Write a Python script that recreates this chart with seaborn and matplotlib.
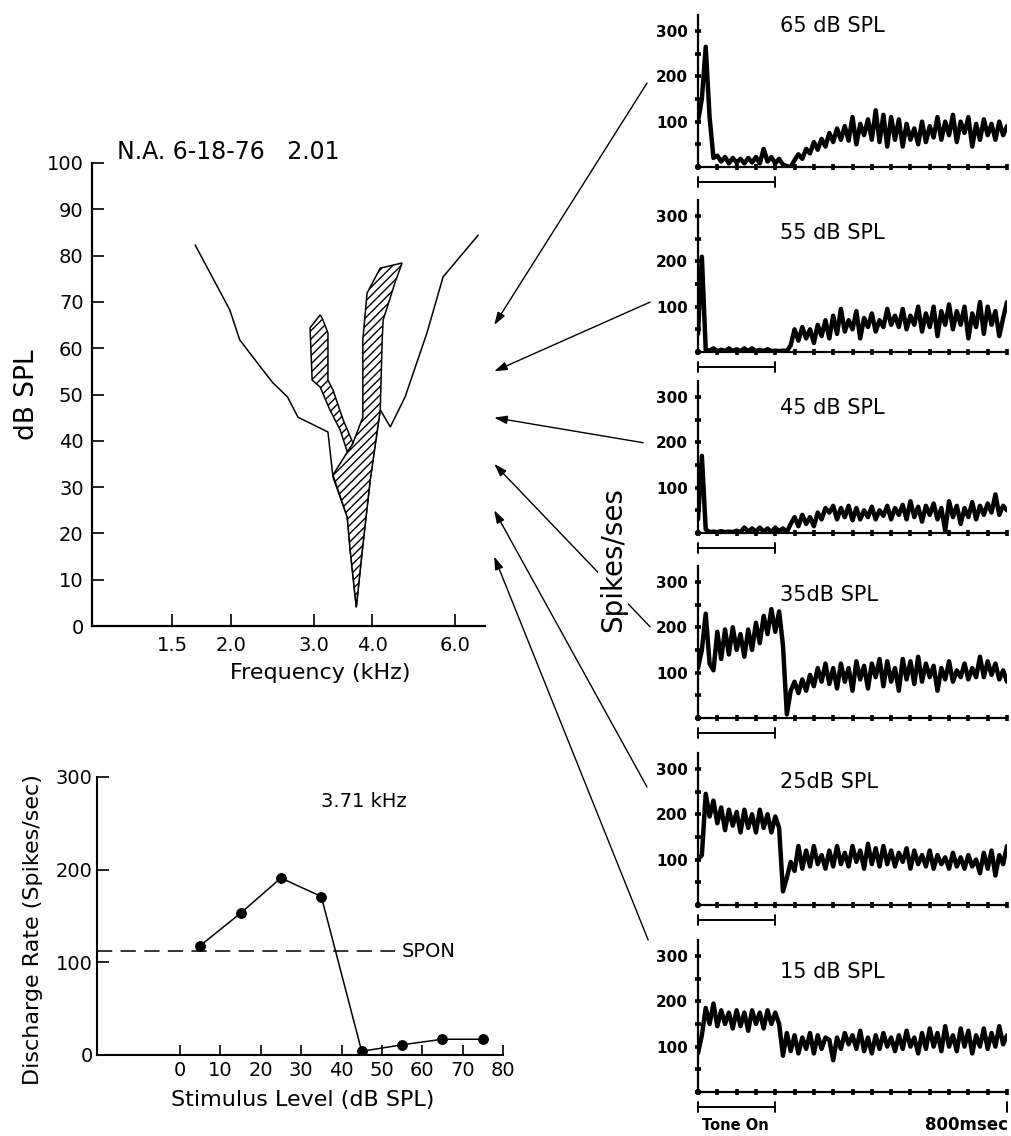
import numpy as np
import pandas as pd
import matplotlib
matplotlib.use("Agg")
import matplotlib.pyplot as plt
import seaborn as sns
from matplotlib.patches import ConnectionPatch
from matplotlib.ticker import FixedLocator, FixedFormatter, NullLocator

# ------------------------------------------------------------------ data
# Tuning curve (frequency in kHz, threshold in dB SPL)
tc_freq = [1.68, 1.99, 2.09, 2.34, 2.46, 2.64, 2.78, 3.22, 3.30, 3.54, 3.59, 3.70,
           3.81, 3.96, 4.16, 4.37, 4.70, 5.23, 5.66, 6.72]
tc_db = [82.3, 68.3, 61.8, 55.3, 52.5, 49.5, 45.1, 41.9, 32.2, 23.5, 16.4, 4.1,
         16.4, 31.5, 46.7, 43.0, 49.5, 63.3, 75.4, 84.4]

# Hatched (excitatory) regions
hatch_a_freq = [3.70, 3.59, 3.54, 3.30, 3.64, 3.82, 3.82, 3.90, 4.16, 4.63, 4.47,
                4.22, 4.20, 4.16, 3.96, 3.81]
hatch_a_db = [4.1, 16.4, 23.5, 32.6, 39.5, 45.1, 61.8, 71.9, 77.3, 78.4, 74.1,
              66.1, 61.8, 46.7, 31.5, 16.4]
hatch_b_freq = [3.10, 2.95, 2.98, 3.10, 3.25, 3.42, 3.54, 3.64, 3.47, 3.30, 3.22, 3.22, 3.13]
hatch_b_db = [67.2, 64.4, 53.1, 51.6, 46.7, 42.3, 37.6, 39.5, 44.5, 51.0, 53.1, 63.3, 66.5]

tc_xticks = [1.5, 2.0, 3.0, 4.0, 6.0]
tc_xticklabels = ["1.5", "2.0", "3.0", "4.0", "6.0"]
tc_title = "N.A. 6-18-76   2.01"

# Rate-level function at CF
rl_level = [5, 15, 25, 35, 45, 55, 65, 75]
rl_rate = [118, 153, 191, 171, 4, 11, 17, 17]
spon_rate = 112
cf_label = "3.71 kHz"

# PSTHs (10 ms bins, spikes/sec)
psth_time = np.arange(0, 801, 10)
psth_levels = [65, 55, 45, 35, 25, 15]
psth_titles = ["65 dB SPL", "55 dB SPL", "45 dB SPL", "35dB SPL", "25dB SPL", "15 dB SPL"]
psth_65 = [100, 150, 265, 110, 20, 25, 12, 22, 8, 20,
           10, 18, 8, 20, 10, 22, 8, 40, 12, 22,
           8, 18, 5, 2, 0, 15, 28, 18, 40, 30,
           55, 38, 62, 45, 75, 55, 85, 60, 90, 58,
           110, 50, 95, 70, 105, 60, 125, 55, 115, 45,
           110, 60, 105, 45, 95, 60, 85, 50, 100, 55,
           90, 65, 110, 60, 100, 70, 115, 55, 100, 75,
           110, 45, 95, 60, 105, 70, 95, 60, 100, 70,
           90]
psth_55 = [40, 210, 5, 3, 8, 2, 5, 2, 8, 2,
           6, 2, 8, 2, 8, 2, 5, 2, 6, 2,
           3, 2, 3, 2, 15, 50, 25, 55, 30, 50,
           20, 60, 35, 70, 30, 80, 40, 95, 45, 70,
           50, 90, 30, 75, 55, 85, 45, 70, 55, 95,
           60, 80, 55, 95, 50, 80, 60, 100, 45, 85,
           55, 100, 35, 90, 60, 105, 50, 90, 60, 100,
           30, 85, 55, 110, 40, 100, 60, 90, 35, 75,
           110]
psth_45 = [30, 170, 8, 2, 3, 2, 4, 2, 3, 2,
           5, 2, 12, 3, 10, 3, 12, 3, 10, 2,
           12, 4, 10, 2, 20, 35, 15, 40, 20, 35,
           15, 45, 30, 55, 45, 60, 30, 55, 35, 60,
           28, 55, 30, 50, 35, 58, 30, 50, 38, 60,
           30, 55, 40, 62, 30, 70, 35, 58, 25, 60,
           40, 65, 30, 55, 5, 70, 35, 60, 20, 55,
           35, 68, 30, 60, 40, 65, 45, 85, 40, 60,
           50]
psth_35 = [110, 150, 230, 120, 105, 190, 130, 195, 140, 200,
           150, 185, 135, 195, 150, 210, 165, 225, 185, 240,
           190, 235, 160, 8, 60, 80, 55, 85, 60, 95,
           70, 110, 80, 120, 75, 110, 65, 120, 80, 110,
           60, 125, 85, 115, 65, 120, 90, 130, 70, 125,
           80, 110, 60, 130, 85, 125, 75, 135, 80, 120,
           90, 115, 60, 110, 85, 125, 80, 105, 90, 120,
           85, 110, 90, 135, 90, 125, 95, 120, 85, 105,
           80]
psth_25 = [100, 110, 245, 195, 230, 180, 215, 165, 210, 175,
           205, 160, 210, 170, 200, 160, 210, 170, 200, 160,
           195, 170, 30, 60, 95, 75, 130, 80, 120, 85,
           130, 90, 110, 80, 120, 85, 130, 90, 115, 85,
           130, 95, 120, 80, 135, 90, 125, 85, 130, 90,
           120, 85, 115, 95, 125, 80, 120, 90, 110, 85,
           120, 80, 110, 90, 105, 80, 115, 85, 105, 80,
           110, 85, 100, 70, 115, 80, 120, 65, 110, 90,
           130]
psth_15 = [85, 125, 185, 150, 195, 145, 180, 150, 175, 140,
           180, 145, 175, 135, 180, 150, 175, 140, 180, 150,
           175, 150, 80, 130, 90, 125, 85, 120, 95, 130,
           85, 125, 95, 120, 115, 70, 120, 95, 130, 105,
           125, 95, 135, 90, 120, 85, 125, 95, 130, 100,
           120, 90, 125, 95, 135, 100, 120, 85, 130, 95,
           140, 100, 130, 90, 145, 100, 125, 90, 140, 100,
           135, 85, 125, 100, 140, 95, 130, 100, 145, 105,
           125]
psth_values = [psth_65, psth_55, psth_45, psth_35, psth_25, psth_15]
tone_on_ms = [0, 200]

# ------------------------------------------------------------------ style
sns.set_theme(style="white")
plt.rcParams.update({
    "font.family": ["DejaVu Sans"],
    "text.color": "black",
    "axes.labelcolor": "black",
    "axes.edgecolor": "black",
    "xtick.color": "black",
    "ytick.color": "black",
    "xtick.bottom": True,
    "ytick.left": True,
    "hatch.linewidth": 1.0,
    "hatch.color": "black",
    "lines.scale_dashes": False,
    "lines.solid_joinstyle": "round",
})

W, H = 1011, 1136
fig = plt.figure(figsize=(W / 100, H / 100), dpi=100)
fig.patch.set_facecolor("white")


def box(l, t, r, b):
    return [l / W, 1 - b / H, (r - l) / W, (b - t) / H]


def fpt(x, y):
    return x / W, 1 - y / H


# ------------------------------------------------------------------ tuning curve
ax_tc = fig.add_axes(box(92, 163, 485, 626))
ax_tc.set_xscale("log")
ax_tc.set_xlim(1.0136, 6.95)
ax_tc.set_ylim(0, 100)
outline = pd.DataFrame({"freq": tc_freq, "db": tc_db})
sns.lineplot(data=outline, x="freq", y="db", sort=False, estimator=None,
             color="black", lw=1.1, ax=ax_tc)
ax_tc.fill(hatch_a_freq, hatch_a_db, facecolor="white", edgecolor="black",
           hatch="////", lw=1.1, zorder=3)
ax_tc.fill(hatch_b_freq, hatch_b_db, facecolor="white", edgecolor="black",
           hatch="////", lw=1.1, zorder=3)
ax_tc.xaxis.set_major_locator(FixedLocator(tc_xticks))
ax_tc.xaxis.set_major_formatter(FixedFormatter(tc_xticklabels))
ax_tc.xaxis.set_minor_locator(NullLocator())
ax_tc.yaxis.set_major_locator(FixedLocator(list(range(0, 101, 10))))
ax_tc.tick_params(axis="both", which="major", direction="in", length=8.5, width=1.2,
                  labelsize=14, bottom=True, left=True)
ax_tc.tick_params(axis="x", pad=7)
ax_tc.tick_params(axis="y", pad=6)
ax_tc.set_xlabel("")
ax_tc.set_ylabel("")
sns.despine(ax=ax_tc)
for s in ("left", "bottom"):
    ax_tc.spines[s].set_linewidth(1.6)
ax_tc.text(1.146, 102.4, tc_title, ha="left", va="center", fontsize=17, clip_on=False)
fig.text(*fpt(27, 395), "dB SPL", rotation=90, ha="center", va="center", fontsize=19)
fig.text(*fpt(320, 673), "Frequency (kHz)", ha="center", va="center", fontsize=16)

# ------------------------------------------------------------------ rate-level
ax_rl = fig.add_axes(box(97, 777, 503, 1055))
ax_rl.set_xlim(-20.56, 80)
ax_rl.set_ylim(0, 300)
rl = pd.DataFrame({"level": rl_level, "rate": rl_rate})
sns.lineplot(data=rl, x="level", y="rate", sort=False, estimator=None, color="black",
             lw=1.1, marker="o", markersize=7, markeredgecolor="black", ax=ax_rl)
ax_rl.axhline(spon_rate, xmin=0, xmax=0.733, color="black", lw=1.1, dashes=(11, 6))
ax_rl.text(55.0, spon_rate, "SPON", ha="left", va="center", fontsize=14)
ax_rl.text(45.5, 274, cf_label, ha="center", va="center", fontsize=14)
ax_rl.xaxis.set_major_locator(FixedLocator(list(range(0, 81, 10))))
ax_rl.yaxis.set_major_locator(FixedLocator([0, 100, 200, 300]))
ax_rl.tick_params(axis="both", direction="in", width=1.2, labelsize=14,
                  bottom=True, left=True)
ax_rl.tick_params(axis="x", length=7, pad=4)
ax_rl.tick_params(axis="y", length=8.5, pad=3)
ax_rl.set_xlabel("")
ax_rl.set_ylabel("")
sns.despine(ax=ax_rl)
for s in ("left", "bottom"):
    ax_rl.spines[s].set_linewidth(1.5)
fig.text(*fpt(33, 930), "Discharge Rate (Spikes/sec)", rotation=90,
         ha="center", va="center", fontsize=16)
fig.text(*fpt(303, 1100), "Stimulus Level (dB SPL)", ha="center", va="center", fontsize=16)

# ------------------------------------------------------------------ PSTHs
zero_px = [167, 352, 533, 718, 905, 1092]
title_y = [310, 262, 275, 270, 272, 265]
tails = [(-132, 185), (-124, 110), (-142, 199), (-124, 201), (-132, 260), (-129, 335)]
bar_y = -33
psth_axes = []
for i, vals in enumerate(psth_values):
    z = zero_px[i]
    ax = fig.add_axes(box(698, z - 152, 1007, z))
    ax.set_xlim(0, 800)
    ax.set_ylim(0, 335)
    sns.lineplot(x=psth_time, y=vals, sort=False, estimator=None, color="black",
                 lw=3.2, ax=ax)
    ax.xaxis.set_major_locator(FixedLocator(list(range(0, 801, 50))))
    ax.yaxis.set_major_locator(FixedLocator([100, 200, 300]))
    ax.yaxis.set_minor_locator(FixedLocator([0, 50, 150, 250]))
    ax.tick_params(which="both", direction="inout", length=5, width=2.6,
                   bottom=True, left=True)
    ax.tick_params(axis="x", labelbottom=False)
    ax.tick_params(axis="y", pad=5, labelsize=11)
    for lab in ax.get_yticklabels():
        lab.set_fontweight("bold")
    ax.set_xlabel("")
    ax.set_ylabel("")
    sns.despine(ax=ax)
    for s in ("left", "bottom"):
        ax.spines[s].set_linewidth(1.6)
    ax.text(212, title_y[i], psth_titles[i], ha="left", va="center", fontsize=15)
    # tone-on marker below the time axis
    ax.plot(tone_on_ms, [bar_y, bar_y], color="black", lw=1.4, clip_on=False)
    for t in tone_on_ms:
        ax.plot([t, t], [bar_y - 11, bar_y + 11], color="black", lw=1.4, clip_on=False)
    psth_axes.append(ax)

ax6 = psth_axes[-1]
ax6.plot([800, 800], [bar_y - 11, bar_y + 11], color="black", lw=1.4, clip_on=False)
ax6.text(96, -73, "Tone On", ha="center", va="center", fontsize=10.5,
         fontweight="bold", clip_on=False)
ax6.text(802, -73, "800msec", ha="right", va="center", fontsize=12,
         fontweight="bold", clip_on=False)

# arrows from each PSTH to its level on the tuning curve
for i, lvl in enumerate(psth_levels):
    con = ConnectionPatch(xyA=tails[i], coordsA=psth_axes[i].transData,
                          xyB=(7.27, lvl), coordsB=ax_tc.transData,
                          arrowstyle="-|>,head_length=0.55,head_width=0.18",
                          mutation_scale=14, lw=1.0, color="black")
    fig.add_artist(con)

fig.text(*fpt(613, 560), "Spikes/ses", rotation=90, ha="center", va="center",
         fontsize=20, bbox=dict(facecolor="white", edgecolor="none", pad=1.0), zorder=5)

fig.savefig("out.png", dpi=100, facecolor="white")
